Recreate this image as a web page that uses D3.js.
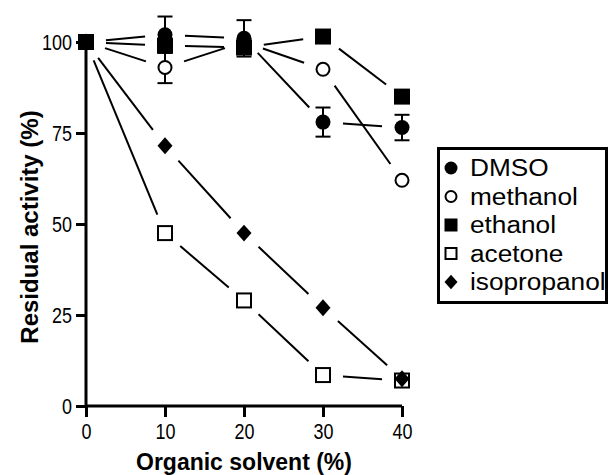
<!DOCTYPE html>
<html><head><meta charset="utf-8">
<script src="https://cdn.jsdelivr.net/npm/d3@7"></script>
<style>body{margin:0;background:#fff;} svg{display:block;}</style>
</head><body>
<svg id="c" width="608" height="475"></svg>
<script>
const solventPct = [0, 10, 20, 30, 40];
const seriesNames = ["DMSO", "methanol", "ethanol", "acetone", "isopropanol"];
const dmso        = [100, 102, 101, 78, 76.5];
const dmsoErr     = [0, 5, 5, 4, 3.5];
const methanol    = [100, 93, 100, 92.5, 62];
const methanolErr = [0, 4.3, 0, 0, 0];
const ethanol     = [100, 99, 98.5, 101.5, 85];
const ethanolErr  = [0, 0, 0, 0, 0];
const acetone     = [100, 47.5, 29, 8.5, 7];
const acetoneErr  = [0, 0, 0, 0, 0];
const isopropanol = [100, 71.5, 47.5, 27, 7.5];
const isoErr      = [0, 0, 0, 0, 0];
const xTicks = [0, 10, 20, 30, 40];
const yTicks = [0, 25, 50, 75, 100];

const svg = d3.select("#c");
const x = d3.scaleLinear().domain([0, 40]).range([86, 402]);
const y = d3.scaleLinear().domain([0, 100]).range([406, 42]);

const series = [
  {name:"acetone", vals:acetone, err:acetoneErr, shape:"square", fill:"#fff"},
  {name:"isopropanol", vals:isopropanol, err:isoErr, shape:"diamond", fill:"#000"},
  {name:"methanol", vals:methanol, err:methanolErr, shape:"circle", fill:"#fff"},
  {name:"DMSO", vals:dmso, err:dmsoErr, shape:"circle", fill:"#000"},
  {name:"ethanol", vals:ethanol, err:ethanolErr, shape:"square", fill:"#000"}
];
const byName = {}; series.forEach(s => byName[s.name] = s);

const font = "'Liberation Sans', Arial, sans-serif";
const yAxis = svg.append("g").attr("transform", "translate(86,0)")
  .call(d3.axisLeft(y).tickValues(yTicks).tickSize(10).tickPadding(4).tickFormat(d3.format("d")));
const xAxis = svg.append("g").attr("transform", "translate(0,406)")
  .call(d3.axisBottom(x).tickValues(xTicks).tickSize(11).tickPadding(6).tickFormat(d3.format("d")));
[yAxis, xAxis].forEach(a => {
  a.select(".domain").attr("stroke", "#000").attr("stroke-width", 3)
    .attr("d", a === yAxis ? "M0," + y(100) + "V" + y(0) : "M" + x(0) + ",0H" + x(40));
  a.selectAll(".tick line").attr("stroke", "#000").attr("stroke-width", 3);
  a.selectAll(".tick text").attr("fill", "#000").style("font-family", font).style("font-size", "22px")
    .each(function(d) { d3.select(this).attr("textLength", String(d).length * 10).attr("lengthAdjust", "spacingAndGlyphs"); });
});
yAxis.selectAll(".tick text").attr("dy", "0.36em");

svg.append("text").attr("x", 244).attr("y", 470).attr("text-anchor", "middle")
  .style("font-family", font).style("font-weight", "bold").style("font-size", "23px")
  .text("Organic solvent (%)");
svg.append("text").attr("transform", "translate(38,227) rotate(-90)").attr("text-anchor", "middle")
  .style("font-family", font).style("font-weight", "bold").style("font-size", "24px")
  .text("Residual activity (%)");

const gap = 20;
const lineG = svg.append("g");
series.forEach(s => {
  for (let i = 0; i < solventPct.length - 1; i++) {
    const x1 = x(solventPct[i]), y1 = y(s.vals[i]);
    const x2 = x(solventPct[i+1]), y2 = y(s.vals[i+1]);
    const L = Math.hypot(x2 - x1, y2 - y1);
    if (L <= 2 * gap) continue;
    const ux = (x2 - x1) / L, uy = (y2 - y1) / L;
    lineG.append("line")
      .attr("x1", x1 + ux * gap).attr("y1", y1 + uy * gap)
      .attr("x2", x2 - ux * gap).attr("y2", y2 - uy * gap)
      .attr("stroke", "#000").attr("stroke-width", 2);
  }
});

function marker(g, shape, fill, cx, cy, sz) {
  const open = fill !== "#000";
  if (shape === "circle") {
    g.append("circle").attr("cx", cx).attr("cy", cy).attr("r", open ? sz/2 - 1 : sz/2)
      .attr("fill", fill).attr("stroke", "#000").attr("stroke-width", open ? 2 : 0);
  } else if (shape === "square") {
    const s = open ? sz - 2 : sz;
    g.append("rect").attr("x", cx - s/2).attr("y", cy - s/2).attr("width", s).attr("height", s)
      .attr("fill", fill).attr("stroke", "#000").attr("stroke-width", open ? 2 : 0);
  } else {
    const w = sz/2, h = sz/2 * 1.13;
    g.append("path").attr("d", `M${cx},${cy-h}L${cx+w},${cy}L${cx},${cy+h}L${cx-w},${cy}Z`).attr("fill", fill);
  }
}

const markG = svg.append("g");
series.forEach(s => {
  s.vals.forEach((v, i) => {
    const e = s.err[i];
    if (e > 0) {
      const cx = x(solventPct[i]);
      markG.append("line").attr("x1", cx).attr("x2", cx).attr("y1", y(v + e)).attr("y2", y(v - e))
        .attr("stroke", "#000").attr("stroke-width", 2);
      [v + e, v - e].forEach(t => markG.append("line").attr("x1", cx - 7.5).attr("x2", cx + 7.5)
        .attr("y1", y(t)).attr("y2", y(t)).attr("stroke", "#000").attr("stroke-width", 2));
    }
  });
});
series.forEach(s => {
  s.vals.forEach((v, i) => marker(markG, s.shape, s.fill, x(solventPct[i]), y(v), s.shape === "square" ? 16 : 15));
});

const lg = svg.append("g");
lg.append("rect").attr("x", 438.5).attr("y", 148.5).attr("width", 168).attr("height", 154)
  .attr("fill", "#fff").attr("stroke", "#000").attr("stroke-width", 3);
seriesNames.forEach((n, i) => {
  const s = byName[n];
  const cy = 168 + i * 28.5;
  marker(lg, s.shape, s.fill, 451, cy, 13);
  const t = lg.append("text").attr("x", 470).attr("y", cy + 8)
    .style("font-family", font).style("font-size", "23px").attr("fill", "#000").text(n);
  const w = t.node().getComputedTextLength();
  t.attr("textLength", w * 1.14).attr("lengthAdjust", "spacingAndGlyphs");
});
</script>
</body></html>
